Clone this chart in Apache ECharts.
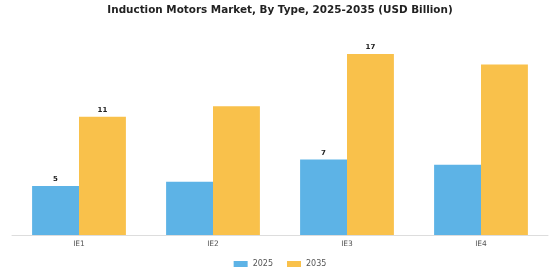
<!DOCTYPE html>
<html>
<head>
<meta charset="utf-8">
<script src="https://cdn.jsdelivr.net/npm/echarts@6/dist/echarts.min.js"></script>
<style>
  html, body { margin: 0; padding: 0; background: #fff; }
  #main { width: 560px; height: 280px; }
</style>
</head>
<body>
<div id="main"></div>
<script>
const categories = ['IE1', 'IE2', 'IE3', 'IE4'];
const values2025 = [4.6, 5.0, 7.1, 6.6];
const values2035 = [11.1, 12.1, 17.0, 16.0];
// only these categories carry value labels in the original
const labelled = ['IE1', 'IE3'];

const chart = echarts.init(document.getElementById('main'));

function barLabel(params) {
  return labelled.indexOf(params.name) >= 0 ? String(Math.round(params.value)) : '';
}

chart.setOption({
  animation: false,
  title: {
    text: 'Induction Motors Market, By Type, 2025-2035 (USD Billion)',
    left: 'center',
    top: 0,
    textStyle: { fontFamily: 'DejaVu Sans', fontSize: 10.4, fontWeight: 'bold', color: '#222' }
  },
  legend: {
    bottom: 7,
    left: 'center',
    itemWidth: 14,
    itemHeight: 6,
    itemGap: 14,
    icon: 'rect',
    textStyle: { fontFamily: 'DejaVu Sans', fontSize: 8, color: '#555' },
    data: ['2025', '2035']
  },
  grid: { left: 12, right: 12, top: 22, bottom: 45 },
  xAxis: {
    type: 'category',
    data: categories,
    axisLine: { lineStyle: { color: '#ddd' } },
    axisTick: { show: false },
    axisLabel: { fontFamily: 'DejaVu Sans', fontSize: 7.5, color: '#555', margin: 5 }
  },
  yAxis: {
    type: 'value',
    min: 0,
    max: 20,
    show: false
  },
  series: [
    {
      name: '2025',
      type: 'bar',
      data: values2025,
      barGap: '0%',
      barCategoryGap: '30%',
      itemStyle: { color: '#5DB3E6' },
      label: { show: true, position: 'top', formatter: barLabel, fontFamily: 'DejaVu Sans', fontSize: 7, fontWeight: 'bold', color: '#222', distance: 3 }
    },
    {
      name: '2035',
      type: 'bar',
      data: values2035,
      barGap: '0%',
      barCategoryGap: '30%',
      itemStyle: { color: '#F9C14B' },
      label: { show: true, position: 'top', formatter: barLabel, fontFamily: 'DejaVu Sans', fontSize: 7, fontWeight: 'bold', color: '#222', distance: 3 }
    }
  ]
});
</script>
</body>
</html>
